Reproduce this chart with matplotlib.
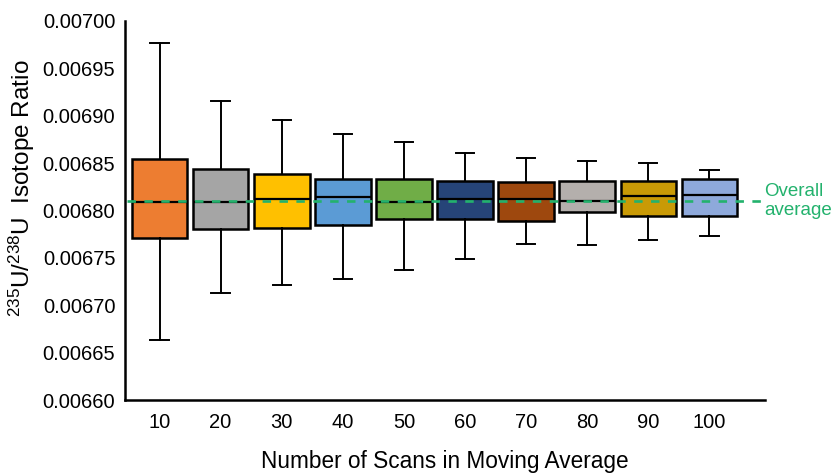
import matplotlib
matplotlib.use("Agg")
import matplotlib.pyplot as plt

plt.rcParams["font.family"] = ["Liberation Sans", "DejaVu Sans"]
plt.rcParams["mathtext.fontset"] = "custom"
plt.rcParams["mathtext.rm"] = "Liberation Sans"
plt.rcParams["mathtext.it"] = "Liberation Sans:italic"

# moving-average window sizes and box statistics for each
scans = ["10", "20", "30", "40", "50", "60", "70", "80", "90", "100"]
whisker_hi = [0.006977, 0.006916, 0.006895, 0.006881, 0.006872,
              0.006861, 0.006855, 0.006852, 0.006850, 0.006843]
q3 = [0.006854, 0.006844, 0.006839, 0.006833, 0.006833,
      0.006831, 0.006830, 0.006831, 0.006831, 0.006833]
median = [0.006809, 0.006809, 0.006812, 0.006814, 0.006809,
          0.006812, 0.006812, 0.006810, 0.006815, 0.006816]
q1 = [0.006771, 0.006780, 0.006782, 0.006785, 0.006791,
      0.006791, 0.006789, 0.006798, 0.006794, 0.006794]
whisker_lo = [0.006663, 0.006713, 0.006721, 0.006728, 0.006737,
              0.006749, 0.006765, 0.006764, 0.006769, 0.006773]
overall_avg = 0.006810

colors = ["#ED7D31", "#A5A5A5", "#FFC000", "#5B9BD5", "#70AD47",
          "#264478", "#9E480E", "#B4AFAC", "#C99A06", "#8EA9DB"]
green = "#23B26D"

stats = []
for lab, lo, a, m, b, hi in zip(scans, whisker_lo, q1, median, q3, whisker_hi):
    stats.append({"label": lab, "whislo": lo, "q1": a, "med": m,
                  "q3": b, "whishi": hi, "fliers": []})

fig = plt.figure(figsize=(8.35, 4.74), dpi=100)
ax = fig.add_axes([125 / 835, 74 / 474, 640 / 835, 379 / 474])

bp = ax.bxp(stats, positions=range(1, 11), widths=0.91, capwidths=0.3,
            patch_artist=True, showfliers=False,
            boxprops=dict(linewidth=1.8, edgecolor="black"),
            medianprops=dict(color="black", linewidth=1.6),
            whiskerprops=dict(color="black", linewidth=1.4),
            capprops=dict(color="black", linewidth=1.4))
for patch, c in zip(bp["boxes"], colors):
    patch.set_facecolor(c)

x0, x1 = 0.435, 10.91
ax.plot([x0 + 0.03, 10.84], [overall_avg, overall_avg], color=green,
        linewidth=1.9, dashes=(3.2, 3.2), zorder=5, clip_on=False)
ax.text(10.9, overall_avg, "Overall\naverage", color=green, fontsize=13.5,
        ha="left", va="center", linespacing=1.15, clip_on=False)

ax.set_xlim(x0, x1)
ax.set_ylim(0.00660, 0.00700)
ax.set_yticks([0.00660 + 0.00005 * i for i in range(9)])
ax.set_yticklabels([f"{0.00660 + 0.00005 * i:.5f}" for i in range(9)])
ax.tick_params(axis="both", length=0, labelsize=14.5, pad=7)
ax.tick_params(axis="x", pad=9)

for side in ["top", "right"]:
    ax.spines[side].set_visible(False)
for side in ["left", "bottom"]:
    ax.spines[side].set_linewidth(1.8)

ax.set_xlabel("Number of Scans in Moving Average", fontsize=16.3)
ax.xaxis.set_label_coords(0.5, -0.133)
ax.set_ylabel(r"$^{235}$U/$^{238}$U  Isotope Ratio", fontsize=17.5)
ax.yaxis.set_label_coords(-0.137, 0.56)

fig.savefig("out.png", dpi=100)
